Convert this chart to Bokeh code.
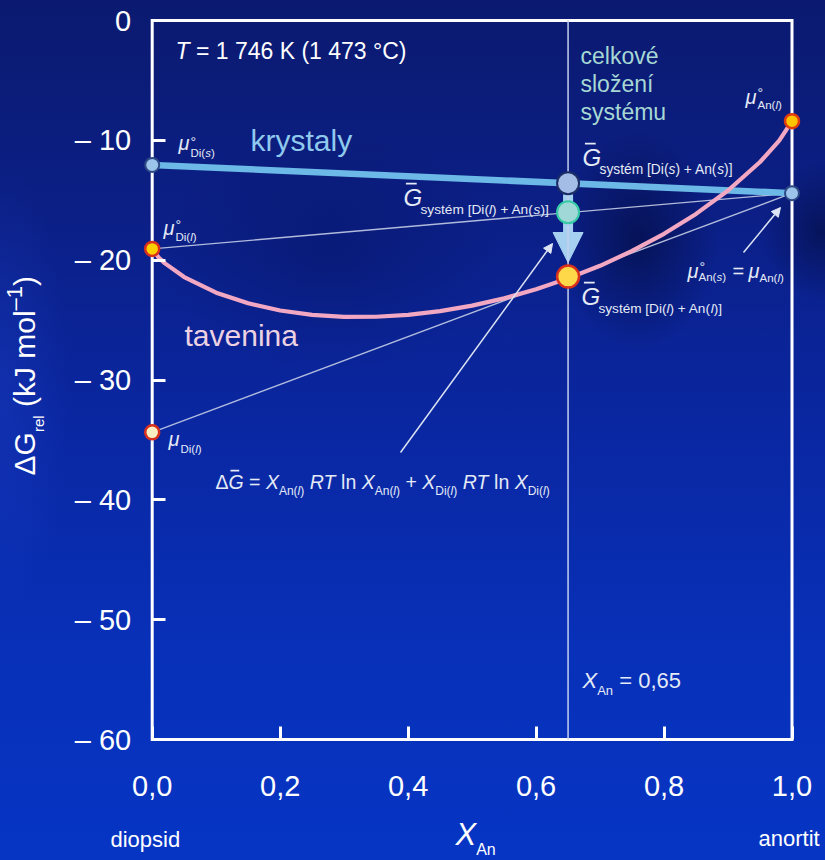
import math
from bokeh.plotting import figure
from bokeh.models import Label, Arrow, NormalHead, FixedTicker, Range1d
from bokeh.embed import file_html
from bokeh.resources import INLINE

# ---------------- data ----------------
x_tick_values = [0.0, 0.2, 0.4, 0.6, 0.8, 1.0]
x_tick_labels = ["0,0", "0,2", "0,4", "0,6", "0,8", "1,0"]
y_tick_values = [0, -10, -20, -30, -40, -50, -60]
y_tick_labels = ["0", "– 10", "– 20", "– 30", "– 40", "– 50", "– 60"]

# liquid (tavenina) Gibbs-energy curve, kJ/mol
x_melt = [0.0, 0.01, 0.02, 0.05, 0.1, 0.15, 0.2, 0.25, 0.3, 0.35, 0.4, 0.45,
          0.5, 0.55, 0.6, 0.65, 0.7, 0.75, 0.8, 0.85, 0.9, 0.95, 0.98, 1.0]
g_melt = [-19.06, -19.77, -20.27, -21.41, -22.71, -23.60, -24.20, -24.56, -24.73, -24.72,
          -24.57, -24.25, -23.79, -23.19, -22.43, -21.52, -20.47, -19.23, -17.80, -16.14,
          -14.19, -11.81, -10.03, -8.40]

x_ends = [0.0, 1.0]
g_crystals = [-12.05, -14.41]        # mu°Di(s) -> mu°An(s)
g_di_l_an_s = [-19.06, -14.41]       # mu°Di(l) -> mu°An(s)
g_tangent = [-34.37, -14.41]         # mu_Di(l) -> mu_An(l) = mu°An(s)

x_system = 0.65
g_sys_solid = -13.58                 # G system [Di(s)+An(s)]
g_sys_mixed = -16.00                 # G system [Di(l)+An(s)]
g_sys_liquid = -21.37                # G system [Di(l)+An(l)]

mu_di_s = -12.05
mu_an_s = -14.41
mu_di_l_pure = -19.06
mu_an_l_pure = -8.40
mu_di_l_eq = -34.37

# ---------------- geometry ----------------
W, H = 825, 860
X_LO, X_HI, Y_LO, Y_HI = 0.0, 1.0, -60.0, 0.0
PX_L, PX_R = 151.7, 791.5     # pixel columns of x = 0 and x = 1
PY_T, PY_B = 20.0, 739.0      # pixel rows of y = 0 and y = -60
SX = (PX_R - PX_L) / (X_HI - X_LO)
SY = (PY_B - PY_T) / (Y_HI - Y_LO)
# the frame covers the whole canvas; axes are pinned at the data edges
x_start = X_LO - PX_L / SX
x_end = X_HI + (W - PX_R) / SX
y_end = Y_HI + PY_T / SY
y_start = Y_LO - (H - PY_B) / SY


def px2x(px):
    return X_LO + (px - PX_L) / SX


def py2y(py):
    return Y_HI - (py - PY_T) / SY


FONT = "Liberation Sans"
BG = ("radial-gradient(ellipse 80px 110px at 638px 240px, rgba(2,8,48,0.55), rgba(2,8,48,0) 100%), "
      "radial-gradient(ellipse 60px 70px at 822px 232px, rgba(2,8,48,0.5), rgba(2,8,48,0) 100%), "
      "radial-gradient(ellipse 170px 120px at 330px 250px, rgba(4,14,80,0.3), rgba(4,14,80,0) 100%), "
      "radial-gradient(ellipse 70px 230px at 0px 390px, rgba(40,80,225,0.25), rgba(40,80,225,0) 100%), "
      "linear-gradient(180deg, #0b1a70 0%, #0b1f86 25%, #0a27a2 50%, #0830b8 75%, #0635c4 100%)")

p = figure(width=W, height=H, x_range=Range1d(x_start, x_end), y_range=Range1d(y_start, y_end),
           output_backend="svg", toolbar_location=None, tools="", title=None,
           min_border_left=0, min_border_right=0, min_border_top=0, min_border_bottom=0,
           border_fill_color=None, background_fill_color=None, outline_line_color=None,
           styles={"background": BG})
p.xgrid.visible = False
p.ygrid.visible = False

for ax, ticks, labels, loc, bounds in ((p.xaxis, x_tick_values, x_tick_labels, Y_LO, (X_LO, X_HI)),
                                       (p.yaxis, y_tick_values, y_tick_labels, X_LO, (Y_LO, Y_HI))):
    ax.ticker = FixedTicker(ticks=ticks)
    ax.major_label_overrides = dict(zip(ticks, labels))
    ax.fixed_location = loc
    ax.bounds = bounds
    ax.axis_line_color = None
    ax.major_tick_line_color = "white"
    ax.major_tick_line_width = 3
    ax.major_tick_in = 13
    ax.major_tick_out = 0
    ax.minor_tick_line_color = None
    ax.major_label_text_color = "white"
    ax.major_label_text_font = FONT
    ax.major_label_text_font_size = "29px"
p.xaxis.major_label_standoff = 36
p.yaxis.major_label_standoff = 21

# frame
p.line([X_LO, X_HI, X_HI, X_LO, X_LO], [Y_HI, Y_HI, Y_LO, Y_LO, Y_HI],
       line_color="white", line_width=3, line_join="miter", line_cap="square")
# system composition line
p.line([x_system, x_system], [Y_HI, Y_LO], line_color="#c4d0ee", line_width=1.5)
# thin construction lines
p.line(x_ends, g_di_l_an_s, line_color="#c3cce6", line_width=1.4, line_alpha=0.9)
p.line(x_ends, g_tangent, line_color="#c3cce6", line_width=1.4, line_alpha=0.9)
# crystals and melt
p.line(x_ends, g_crystals, line_color="#6cb8e6", line_width=6.5)
p.line(x_melt, g_melt, line_color="#f2a8c2", line_width=4.2)

# big arrow (under the markers)
p.add_layout(Arrow(x_start=x_system, y_start=g_sys_solid, x_end=x_system, y_end=py2y(262),
                   line_color="#a6d0f0", line_width=10, level="underlay",
                   end=NormalHead(size=30, fill_color="#a6d0f0", line_color="#a6d0f0")))

# markers
p.scatter([x_ends[0], x_ends[1]], [mu_di_s, mu_an_s], size=14, fill_color="#9cc4ea",
          line_color="#2e4a86", line_width=2)
p.scatter([x_system], [g_sys_solid], size=22, fill_color="#a3bde6", line_color="#1d2d66", line_width=2)
p.scatter([x_system], [g_sys_mixed], size=22, fill_color="#9fd8d6", line_color="#35c9a4", line_width=2)
p.scatter([x_system], [g_sys_liquid], size=22, fill_color="#ffd84a", line_color="#d8301c", line_width=2.5)
p.scatter([x_ends[0]], [mu_di_l_pure], size=14, fill_color="#ffd000", line_color="#d8301c", line_width=2.5)
p.scatter([x_ends[1]], [mu_an_l_pure], size=14, fill_color="#ffc400", line_color="#e03a10", line_width=2.5)
p.scatter([x_ends[0]], [mu_di_l_eq], size=14, fill_color="#fbeec0", line_color="#d8301c", line_width=2.5)

# thin pointer arrows
for (sx_, sy_), (ex_, ey_) in (((400, 452), (552, 243)), ((743, 252), (780, 207))):
    p.add_layout(Arrow(x_start=px2x(sx_), y_start=py2y(sy_), x_end=px2x(ex_), y_end=py2y(ey_),
                       line_color="#dde4f4", line_width=1.5,
                       end=NormalHead(size=9, fill_color="#dde4f4", line_color="#dde4f4")))

# ---------------- text helpers ----------------
CW = {" ": 278, "(": 333, ")": 333, "[": 278, "]": 278, "+": 584, "=": 584, ",": 278, ".": 278,
      "–": 556, "°": 400, "μ": 576, "Δ": 668, "é": 556, "í": 278, "ž": 500,
      "A": 667, "C": 722, "D": 722, "G": 778, "K": 667, "R": 722, "T": 611, "X": 667, "J": 500,
      "a": 556, "b": 556, "c": 500, "d": 556, "e": 556, "f": 278, "g": 556, "h": 556, "i": 222,
      "j": 222, "k": 500, "l": 222, "m": 833, "n": 556, "o": 556, "p": 556, "q": 556, "r": 333,
      "s": 500, "t": 278, "u": 556, "v": 500, "w": 722, "x": 500, "y": 500, "z": 500}
BASE_FIX = 0.3   # rendered labels sit this many ems below the requested baseline


def tw(s, size):
    return sum(CW.get(c, 556) for c in s) * size / 1000.0


def lab(px, py, text, size, color, italic=False, angle=0.0):
    if angle == 0:
        py = py - BASE_FIX * size
    else:
        px = px - BASE_FIX * size
    p.add_layout(Label(x=px2x(px), y=py2y(py), text=text, text_font=FONT,
                       text_font_size=f"{size}px", text_color=color,
                       text_font_style="italic" if italic else "normal",
                       text_align="left", text_baseline="alphabetic", angle=angle))


def run(px, py, parts, color, angle=0.0):
    pos = []
    adv = 0.0
    for text, size, italic, shift in parts:
        body = text.lstrip(" ")
        lead = tw(text[:len(text) - len(body)], size)
        if angle == 0:
            x, y = px + adv + lead, py + shift
        else:
            x, y = px + shift, py - adv - lead
        if body.strip():
            lab(x, y, body.rstrip(" "), size, color, italic, angle)
        pos.append((x, y))
        adv += tw(text, size)
    return pos


def overbar(gx, gy, size, color):
    p.add_layout(Arrow(x_start=px2x(gx + 0.1 * size), y_start=py2y(gy - 0.87 * size),
                       x_end=px2x(gx + 0.55 * size), y_end=py2y(gy - 0.87 * size),
                       end=None, line_color=color, line_width=1.8))


def gbar(px, py, sub_parts, color):
    lab(px, py, "G", 24, color, italic=True)
    overbar(px, py, 24, color)
    run(px + 17, py + 9, sub_parts, color)


WHITE = "#ffffff"
LT = "#e4eaf6"
F, T = False, True

# temperature
run(175, 57, [("T", 23, T, 0), (" = 1 746 K (1 473 °C)", 23, F, 0)], WHITE)
# phase names
lab(250, 149, "krystaly", 30, "#8fcaee")
lab(184, 344, "tavenina", 30, "#ecd2e2")
for i, w in enumerate(["celkové", "složení", "systému"]):
    lab(580, 62 + 28 * i, w, 23, "#a6d8d4")

# chemical potentials
lab(178, 148, "μ", 20, LT, italic=True)
lab(190, 146, "°", 14, LT)
run(190, 156, [("Di(", 11.5, F, 0), ("s", 11.5, T, 0), (")", 11.5, F, 0)], LT)

lab(163, 233, "μ", 20, LT, italic=True)
lab(175, 229, "°", 14, LT)
run(175, 240, [("Di(", 11.5, F, 0), ("l", 11.5, T, 0), (")", 11.5, F, 0)], LT)

lab(168, 444, "μ", 20, LT, italic=True)
run(180, 452, [("Di(", 11.5, F, 0), ("l", 11.5, T, 0), (")", 11.5, F, 0)], LT)

lab(745, 102, "μ", 20, LT, italic=True)
lab(757, 97, "°", 14, LT)
run(757, 108, [("An(", 11.5, F, 0), ("l", 11.5, T, 0), (")", 11.5, F, 0)], LT)

lab(687, 276, "μ", 20, LT, italic=True)
lab(699, 271, "°", 14, LT)
run(698, 280, [("An(", 11.5, F, 0), ("s", 11.5, T, 0), (")", 11.5, F, 0)], LT)
lab(732, 276, "=", 20, LT)
lab(748, 276, "μ", 20, LT, italic=True)
run(759, 281, [("An(", 11.5, F, 0), ("l", 11.5, T, 0), (")", 11.5, F, 0)], LT)

# system Gibbs energies
gbar(582, 164, [("systém [Di(", 13.8, F, 0), ("s", 13.8, T, 0), (") + An(", 13.8, F, 0),
                ("s", 13.8, T, 0), (")]", 13.8, F, 0)], LT)
gbar(403, 204, [("systém [Di(", 13.7, F, 0), ("l", 13.7, T, 0), (") + An(", 13.7, F, 0),
                ("s", 13.7, T, 0), (")]", 13.7, F, 0)], LT)
gbar(581, 303, [("systém [Di(", 13.6, F, 0), ("l", 13.6, T, 0), (") + An(", 13.6, F, 0),
                ("l", 13.6, T, 0), (")]", 13.6, F, 0)], LT)

# mixing formula
M, S, D = 19.5, 12, 7
formula = [("Δ", M, F, 0), ("G", M, T, 0), (" = ", M, F, 0),
           ("X", M, T, 0), ("An(", S, F, D), ("l", S, T, D), (")", S, F, D), (" ", M, F, 0),
           ("RT", M, T, 0), (" ln ", M, F, 0),
           ("X", M, T, 0), ("An(", S, F, D), ("l", S, T, D), (")", S, F, D), (" + ", M, F, 0),
           ("X", M, T, 0), ("Di(", S, F, D), ("l", S, T, D), (")", S, F, D), (" ", M, F, 0),
           ("RT", M, T, 0), (" ln ", M, F, 0),
           ("X", M, T, 0), ("Di(", S, F, D), ("l", S, T, D), (")", S, F, D)]
fpos = run(215, 487, formula, LT)
overbar(fpos[1][0], fpos[1][1], M, LT)

# composition marker text
run(582, 687, [("X", 22, T, 0), ("An", 13, F, 7), (" = 0,65", 22, F, 0)], LT)

# axis titles
run(455, 843, [("X", 31, T, 0), ("An", 16, F, 11)], WHITE)
lab(110, 846, "diopsid", 22, WHITE)
lab(758, 845, "anortit", 22, WHITE)
run(33, 475, [("ΔG", 30, F, 0), ("rel", 15, F, 9), (" (kJ mol", 30, F, 0),
              ("–1", 22, F, -12), (")", 30, F, 0)], WHITE, angle=math.pi / 2)

open("out.html", "w").write(file_html(p, INLINE))
